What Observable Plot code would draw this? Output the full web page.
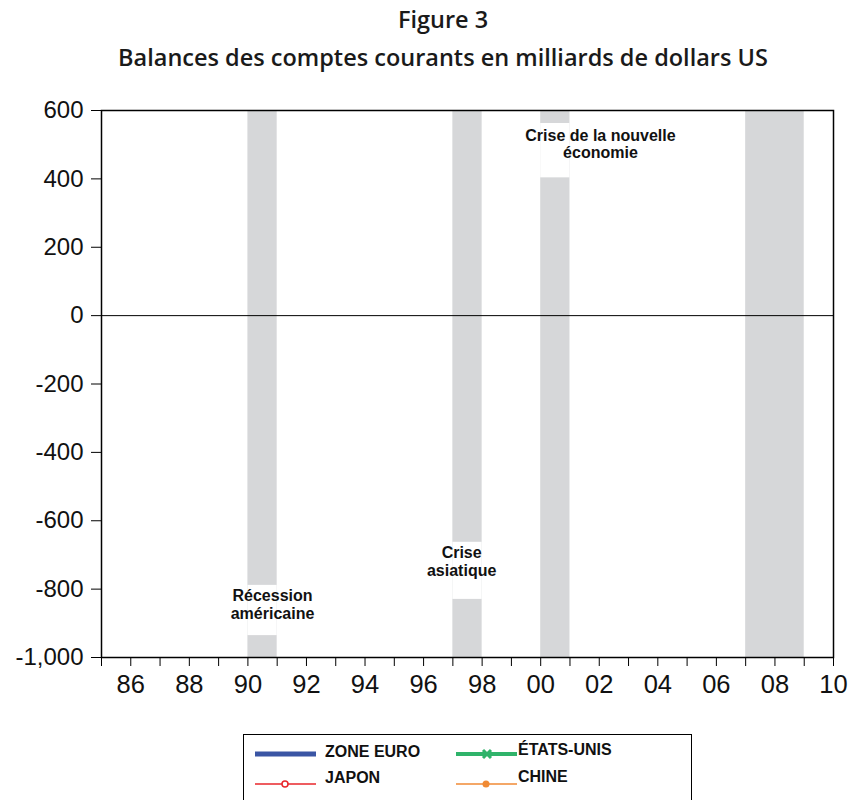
<!DOCTYPE html>
<html>
<head>
<meta charset="utf-8">
<script src="https://cdn.jsdelivr.net/npm/d3@7"></script>
<script src="https://cdn.jsdelivr.net/npm/@observablehq/plot@0.6"></script>
<style>
  html, body { margin: 0; padding: 0; background: #fff; }
  #page { position: relative; width: 848px; height: 800px; overflow: hidden; font-family: "Liberation Sans", Arial, sans-serif; }
  #title { position: absolute; left: 0; width: 886px; top: 0px; text-align: center; font-family: "Open Sans", sans-serif; font-weight: 600; color: #1a1a1a; font-size: 23.5px; line-height: 38px; }
  #chart { position: absolute; left: 0; top: 80px; }
  #legend { position: absolute; left: 243px; top: 734px; width: 449px; height: 90px; border: 1.5px solid #000; box-sizing: border-box; }
  .lg { position: absolute; }
  .lt { position: absolute; font-weight: bold; font-size: 16px; color: #111; line-height: 16px; white-space: nowrap; }
</style>
</head>
<body>
<div id="page">
  <div id="title">Figure 3<br>Balances des comptes courants en milliards de dollars US</div>
  <div id="chart"></div>
  <div id="legend"></div>
</div>
<script>
// Chart data
const years = d3.range(1985, 2011);            // x axis ticks, one per year
const labelYears = d3.range(1986, 2011, 2);    // labelled even years
const yTicks = [600, 400, 200, 0, -200, -400, -600, -800, -1000];

// Recession / crisis periods (shaded)
const bandStart = [1990, 1997, 2000, 2007];
const bandEnd   = [1991, 1998, 2001, 2009];

// White gaps in bands behind annotations (value ranges)
const gapStart = [1990, 1997, 2000];
const gapEnd   = [1991, 1998, 2001];
const gapLow   = [-936, -830, 403];
const gapHigh  = [-789, -663, 562];

// Annotations
const noteText = ["Récession\naméricaine", "Crise\nasiatique", "Crise de la nouvelle\néconomie"];
const noteYear = [1990.84, 1997.3, 2002.04];
const noteValue = [-845, -719, 503];

// Series (legend)
const seriesNames  = ["ZONE EURO", "ÉTATS-UNIS", "JAPON", "CHINE"];
const seriesColors = ["#3a55a4", "#2fb36a", "#e8262b", "#f08a34"];

const bands = bandStart.map((s, i) => ({s, e: bandEnd[i]}));
const gaps = gapStart.map((s, i) => ({s, e: gapEnd[i], lo: gapLow[i], hi: gapHigh[i]}));
const notes = noteText.map((t, i) => ({t, x: noteYear[i], y: noteValue[i]}));

const plot = Plot.plot({
  width: 848,
  height: 620,
  marginLeft: 101,
  marginRight: 15,
  marginTop: 30,
  marginBottom: 43,
  style: {fontFamily: "'Liberation Sans', Arial, sans-serif", color: "#111", background: "#fff"},
  x: {domain: [1985, 2010]},
  y: {domain: [-1000, 600]},
  marks: [
    Plot.rectY(bands, {x1: "s", x2: "e", y1: -1000, y2: 600, fill: "#d6d7d9"}),
    Plot.rect(gaps, {x1: "s", x2: "e", y1: "lo", y2: "hi", fill: "#fff"}),
    Plot.ruleY([0], {stroke: "#000", strokeWidth: 1}),
    Plot.axisY({ticks: yTicks, tickSize: 10, tickPadding: 8, fontSize: 24,
      tickFormat: d => d.toLocaleString("en-US"), label: null, stroke: "#000"}),
    Plot.axisX({ticks: years, tickSize: 9, tickPadding: 8, fontSize: 25.5,
      tickFormat: d => labelYears.includes(d) ? String(d % 100).padStart(2, "0") : "",
      label: null, stroke: "#000"}),
    Plot.frame({stroke: "#000", strokeWidth: 1.5}),
    Plot.text(notes, {x: "x", y: "y", text: "t", fontWeight: "bold", fontSize: 16,
      lineHeight: 1.1, fill: "#111", textAnchor: "middle", lineAnchor: "middle"})
  ]
});
document.getElementById("chart").appendChild(plot);

// Legend (box inner origin at 244.5, 735.5)
const legend = document.getElementById("legend");
const linePos = [[11, 19], [212, 19], [11, 49], [212, 49]];   // line left / line y
const textPos = [[81, 9], [274, 7], [81, 35], [274, 34]];
seriesNames.forEach((name, i) => {
  const [lx, ly] = linePos[i];
  const svg = d3.create("svg").attr("class", "lg").attr("width", 64).attr("height", 14)
    .style("left", lx + "px").style("top", (ly - 7) + "px");
  const w = i === 0 ? 5 : i === 1 ? 4 : 1.5;
  svg.append("line").attr("x1", 0).attr("x2", 61).attr("y1", 7).attr("y2", 7)
    .attr("stroke", seriesColors[i]).attr("stroke-width", w);
  if (i === 1) {
    svg.append("path").attr("d", "M27,3L35,11M27,11L35,3")
      .attr("stroke", seriesColors[i]).attr("stroke-width", 3);
  } else if (i === 2) {
    svg.append("circle").attr("cx", 30).attr("cy", 7).attr("r", 3)
      .attr("fill", "#fff").attr("stroke", seriesColors[i]).attr("stroke-width", 1.5);
  } else if (i === 3) {
    svg.append("circle").attr("cx", 30).attr("cy", 7).attr("r", 3.5).attr("fill", seriesColors[i]);
  }
  legend.appendChild(svg.node());
  const sp = document.createElement("div");
  sp.className = "lt";
  sp.textContent = name;
  sp.style.left = textPos[i][0] + "px";
  sp.style.top = textPos[i][1] + "px";
  legend.appendChild(sp);
});
</script>
</body>
</html>
